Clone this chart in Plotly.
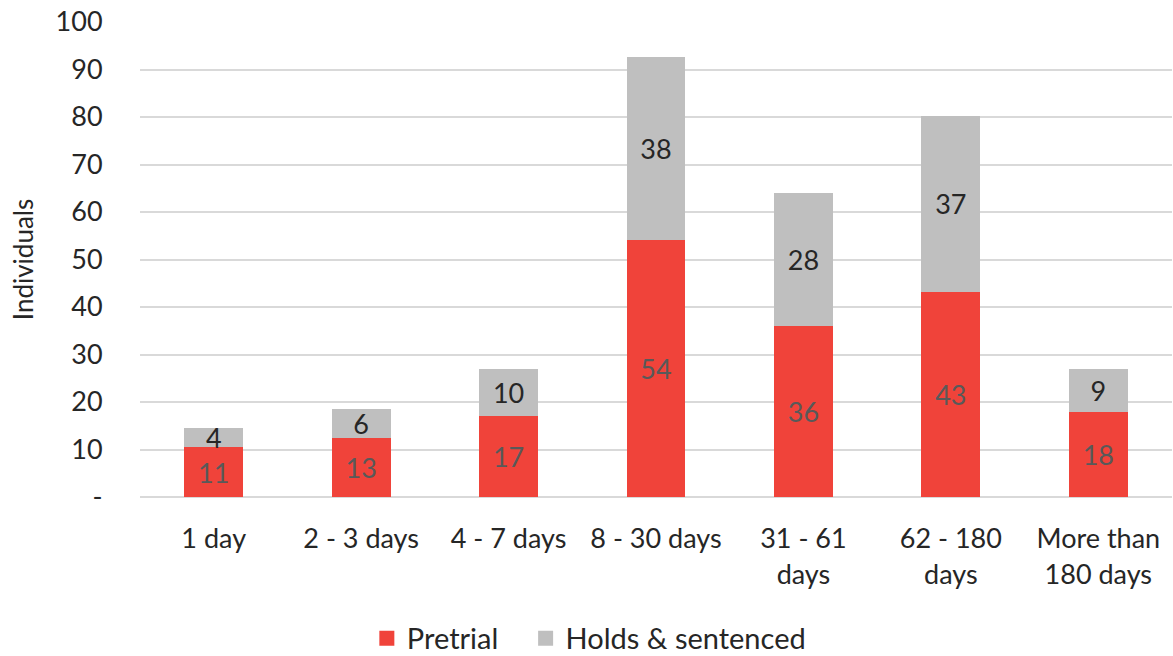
import plotly.graph_objects as go

categories = ["1 day", "2 - 3 days", "4 - 7 days", "8 - 30 days",
              "31 - 61<br>days", "62 - 180<br>days", "More than<br>180 days"]
pretrial = [10.5, 12.5, 17.1, 54.2, 35.9, 43.2, 18.0]
holds = [4.0, 6.0, 9.8, 38.4, 28.1, 37.0, 8.9]
pretrial_labels = ["11", "13", "17", "54", "36", "43", "18"]
holds_labels = ["4", "6", "10", "38", "28", "37", "9"]
y_tickvals = [0, 10, 20, 30, 40, 50, 60, 70, 80, 90, 100]
y_ticktext = ["-", "10", "20", "30", "40", "50", "60", "70", "80", "90", "100"]
series_names = ["Pretrial", "Holds & sentenced"]
series_colors = ["#F0433A", "#BFBFBF"]

FONT = "Lato"
fs = 27

fig = go.Figure()
fig.add_trace(go.Bar(
    x=categories, y=pretrial, name=series_names[0], showlegend=False,
    marker=dict(color=series_colors[0], line=dict(width=0)),
    text=pretrial_labels, textposition="inside", insidetextanchor="middle",
    constraintext="none", textangle=0,
    textfont=dict(family=FONT, size=fs, color="#595959"),
    hoverinfo="skip",
))
fig.add_trace(go.Bar(
    x=categories, y=holds, name=series_names[1], showlegend=False,
    marker=dict(color=series_colors[1], line=dict(width=0)),
    text=holds_labels, textposition="inside", insidetextanchor="middle",
    constraintext="none", textangle=0,
    textfont=dict(family=FONT, size=fs, color="#262626"),
    hoverinfo="skip",
))
# legend entries with square swatches
legend_pad = ["\u00a0\u00a0\u00a0", ""]
for nm, col, pad in zip(series_names, series_colors, legend_pad):
    fig.add_trace(go.Scatter(
        x=[None], y=[None], mode="markers", name=nm + pad,
        marker=dict(symbol="square", size=15, color=col),
        hoverinfo="skip",
    ))

fig.update_layout(
    barmode="stack", bargap=0.6,
    width=1173, height=656,
    margin=dict(l=140, r=1, t=22, b=159),
    paper_bgcolor="white", plot_bgcolor="white",
    font=dict(family=FONT, size=fs, color="#262626"),
    showlegend=True,
    legend=dict(orientation="h", xref="container", yref="container",
                x=0.502, xanchor="center", y=0.027, yanchor="middle",
                font=dict(family=FONT, size=29, color="#262626"),
                traceorder="normal", itemwidth=30),
    xaxis=dict(
        tickangle=0, showgrid=False, showline=False, zeroline=False,
        ticks="outside", ticklen=18, tickcolor="rgba(0,0,0,0)",
        tickfont=dict(family=FONT, size=fs, color="#262626"),
    ),
    yaxis=dict(
        range=[0, 100], tickvals=y_tickvals, ticktext=y_ticktext,
        showgrid=True, gridcolor="#D9D9D9", gridwidth=1.5,
        zeroline=True, zerolinecolor="#D9D9D9", zerolinewidth=1.5,
        showline=False,
        ticks="outside", ticklen=31, tickcolor="rgba(0,0,0,0)",
        tickfont=dict(family=FONT, size=fs, color="#262626"),
        title=dict(text="Individuals", standoff=14,
                   font=dict(family=FONT, size=fs - 1, color="#262626")),
    ),
)

fig.write_html("out.html", config={"displayModeBar": False},
               post_script="document.body.style.margin='0px';document.body.style.overflow='hidden';")
